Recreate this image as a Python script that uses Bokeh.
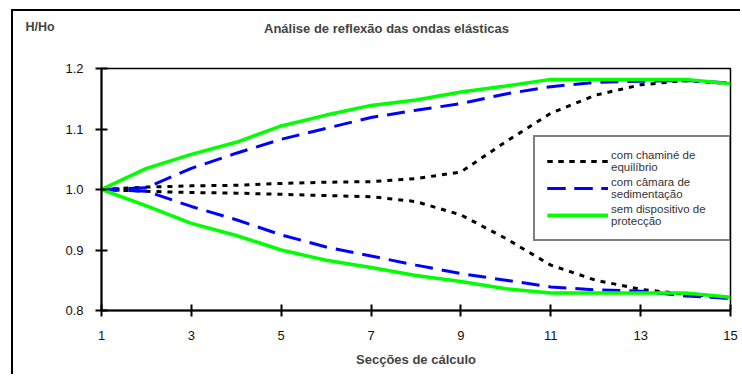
from bokeh.plotting import figure
from bokeh.models import Range1d, FixedTicker, NumeralTickFormatter, Legend, LegendItem, Label
from bokeh.embed import file_html
from bokeh.resources import INLINE

# ---- data ----
sections = [1, 2, 3, 4, 5, 6, 7, 8, 9, 10, 11, 12, 13, 14, 15]

chamine_upper = [1.000, 1.004, 1.006, 1.007, 1.010, 1.012, 1.013, 1.018, 1.029, 1.079, 1.126, 1.156, 1.173, 1.180, 1.175]
chamine_lower = [1.000, 0.997, 0.995, 0.994, 0.992, 0.990, 0.988, 0.980, 0.958, 0.919, 0.875, 0.850, 0.835, 0.827, 0.820]

camara_upper = [1.000, 1.003, 1.035, 1.060, 1.083, 1.101, 1.119, 1.131, 1.142, 1.158, 1.170, 1.177, 1.179, 1.180, 1.176]
camara_lower = [1.000, 0.997, 0.972, 0.950, 0.925, 0.905, 0.890, 0.875, 0.861, 0.850, 0.839, 0.834, 0.832, 0.824, 0.820]

sem_upper = [1.000, 1.035, 1.058, 1.078, 1.105, 1.123, 1.139, 1.148, 1.161, 1.171, 1.182, 1.182, 1.182, 1.182, 1.175]
sem_lower = [1.000, 0.973, 0.944, 0.924, 0.900, 0.883, 0.871, 0.858, 0.848, 0.836, 0.829, 0.829, 0.829, 0.829, 0.822]

x_ticks = [1, 3, 5, 7, 9, 11, 13, 15]
y_ticks = [0.8, 0.9, 1.0, 1.1, 1.2]

legend_labels = ["com chaminé de\nequilíbrio", "com câmara de\nsedimentação", "sem dispositivo de\nprotecção"]
title_text = "Análise de reflexão das ondas elásticas"
y_title = "H/Ho"
x_title = "Secções de cálculo"

FONT = "Liberation Sans"

p = figure(width=729, height=365, output_backend="svg", toolbar_location=None,
           x_range=Range1d(1, 15), y_range=Range1d(0.8, 1.2),
           min_border_left=88, min_border_right=12, min_border_top=57, min_border_bottom=66)
p.styles = {"margin-left": "11px", "margin-top": "9px",
            "border-left": "2px solid black", "border-top": "2px solid black"}
p.background_fill_color = "white"
p.border_fill_color = "white"
p.outline_line_color = "black"
p.outline_line_width = 1.5
p.xgrid.visible = False
p.ygrid.visible = False

for ax in (p.xaxis[0], p.yaxis[0]):
    ax.axis_line_width = 2
    ax.axis_line_color = "black"
    ax.major_tick_line_width = 2
    ax.major_tick_line_color = "black"
    ax.major_tick_in = 6
    ax.major_tick_out = 6
    ax.minor_tick_line_color = None
    ax.major_label_text_font = FONT
    ax.major_label_text_font_size = "13px"
    ax.major_label_text_color = "#111111"

p.xaxis.ticker = FixedTicker(ticks=x_ticks)
p.yaxis.ticker = FixedTicker(ticks=y_ticks)
p.yaxis.formatter = NumeralTickFormatter(format="0.0")
p.xaxis.major_label_standoff = 14
p.yaxis.major_label_standoff = 12
p.xaxis.axis_label = x_title
p.xaxis.axis_label_text_font = FONT
p.xaxis.axis_label_text_font_style = "bold"
p.xaxis.axis_label_text_font_size = "13px"
p.xaxis.axis_label_standoff = 9

r1 = p.line(sections, chamine_upper, line_color="black", line_width=3, line_dash="5 6")
r2 = p.line(sections, chamine_lower, line_color="black", line_width=3, line_dash="5 6")
r3 = p.line(sections, camara_upper, line_color="#0000ff", line_width=3, line_dash="18 9")
r4 = p.line(sections, camara_lower, line_color="#0000ff", line_width=3, line_dash="18 9")
r5 = p.line(sections, sem_upper, line_color="#00ff00", line_width=3.5)
r6 = p.line(sections, sem_lower, line_color="#00ff00", line_width=3.5)

legend = Legend(items=[
    LegendItem(label=legend_labels[0], renderers=[r1, r2]),
    LegendItem(label=legend_labels[1], renderers=[r3, r4]),
    LegendItem(label=legend_labels[2], renderers=[r5, r6]),
], location=(432, 69))
legend.border_line_color = "black"
legend.border_line_width = 2
legend.background_fill_alpha = 1
legend.label_text_font = FONT
legend.label_text_font_size = "11.5px"
legend.label_text_color = "#333333"
legend.glyph_width = 61
legend.glyph_height = 14
legend.label_standoff = 3
legend.label_width = 106
legend.padding = 12
legend.margin = 0
legend.spacing = 3
p.add_layout(legend)

p.add_layout(Label(x=285, y=40, x_units="screen", y_units="screen", text=title_text,
                   text_font=FONT, text_font_style="bold", text_font_size="13px",
                   text_align="center", text_baseline="middle"), "above")
p.add_layout(Label(x=-76, y=27, x_units="screen", y_units="screen", text=y_title,
                   text_font=FONT, text_font_style="bold", text_font_size="12.5px",
                   text_align="left", text_baseline="middle"), "above")

open("out.html", "w").write(file_html(p, INLINE))
